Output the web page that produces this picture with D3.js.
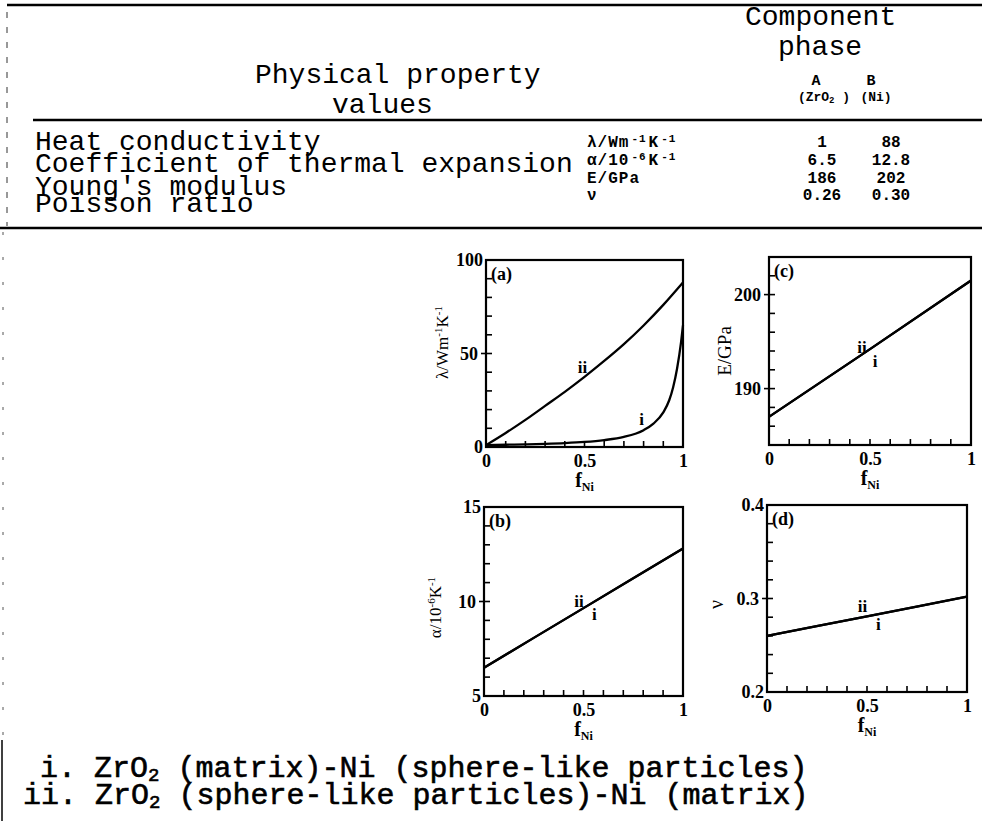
<!DOCTYPE html>
<html>
<head>
<meta charset="utf-8">
<script src="https://cdn.jsdelivr.net/npm/d3@7"></script>
<style>
  body { margin: 0; background: #fff; }
  svg { display: block; }
</style>
</head>
<body>
<svg width="982" height="821"></svg>
<script>
// ---- table data ----
const properties = ['Heat conductivity', 'Coefficient of thermal expansion', "Young's modulus", 'Poisson ratio'];
// unit pieces: [text, isSuperscript]
const units = [
  [['λ/Wm', 0], ['-1', 1], ['K', 0], ['-1', 1]],
  [['α/10', 0], ['-6', 1], ['K', 0], ['-1', 1]],
  [['E/GPa', 0]],
  [['ν', 0]]
];
const valuesA = ['1', '6.5', '186', '0.26'];
const valuesB = ['88', '12.8', '202', '0.30'];

// ---- curve data ----
const fNiLambdaI = [0, 0.1, 0.2, 0.3, 0.4, 0.5, 0.6, 0.7, 0.8, 0.85, 0.9, 0.93, 0.95, 0.97, 0.99, 1];
const lambdaI = [1, 1.2, 1.4, 1.7, 2.1, 2.7, 3.7, 5.4, 9, 12.5, 18.5, 25, 32, 42, 56, 65];
const fNiLambdaII = [0, 0.1, 0.2, 0.3, 0.4, 0.5, 0.6, 0.7, 0.8, 0.9, 1];
const lambdaII = [1, 7.5, 14.5, 22, 29.5, 37.5, 46, 55, 65, 76, 88];

const fNiLinear = [0, 0.5, 1];
const alphaI = [6.5, 9.65, 12.8];
const alphaII = [6.5, 9.65, 12.8];
const youngI = [187, 194.2, 201.5];
const youngII = [187, 194.2, 201.5];
const poissonI = [0.26, 0.281, 0.302];
const poissonII = [0.26, 0.281, 0.302];

// ---- axis ticks ----
const xTicks = [0, 0.5, 1];
const xTickLabels = ['0', '0.5', '1'];
const yTicksA = [0, 50, 100];
const yTicksB = [5, 10, 15];
const yTicksC = [190, 200];
const yTicksD = [0.2, 0.3, 0.4];

const mono = "'Liberation Mono', 'DejaVu Sans Mono', monospace";
const serif = "'Liberation Serif', 'DejaVu Serif', serif";

const svg = d3.select('svg');

// ================= table =================
const rule = (x1, x2, y, w) => svg.append('line')
  .attr('x1', x1).attr('x2', x2).attr('y1', y).attr('y2', y)
  .attr('stroke', '#000').attr('stroke-width', w);

rule(7, 982, 5, 2.6);
rule(33, 982, 120, 2.4);
rule(0, 982, 228, 2.4);

// left border of the page scan
svg.append('line').attr('x1', 7).attr('x2', 7).attr('y1', 12).attr('y2', 226)
  .attr('stroke', '#333').attr('stroke-width', 1).attr('stroke-dasharray', '6,9');
svg.append('line').attr('x1', 3).attr('x2', 3).attr('y1', 232).attr('y2', 740)
  .attr('stroke', '#555').attr('stroke-width', 1).attr('stroke-dasharray', '3,22');
svg.append('line').attr('x1', 2).attr('x2', 2).attr('y1', 740).attr('y2', 821)
  .attr('stroke', '#000').attr('stroke-width', 1.5);

const head = svg.append('g').attr('font-family', mono).attr('fill', '#000');
head.append('text').attr('x', 255).attr('y', 83).attr('font-size', 28).text('Physical property');
head.append('text').attr('x', 332).attr('y', 113).attr('font-size', 28).text('values');
head.append('text').attr('x', 745).attr('y', 25).attr('font-size', 28).text('Component');
head.append('text').attr('x', 778).attr('y', 55).attr('font-size', 28).text('phase');
head.append('text').attr('x', 816).attr('y', 85).attr('font-size', 15).attr('font-weight', 'bold')
  .attr('text-anchor', 'middle').text('A');
head.append('text').attr('x', 871).attr('y', 85).attr('font-size', 15).attr('font-weight', 'bold')
  .attr('text-anchor', 'middle').text('B');
const zr = head.append('text').attr('x', 824).attr('y', 101).attr('font-size', 13)
  .attr('font-weight', 'bold').attr('text-anchor', 'middle');
zr.append('tspan').text('(ZrO');
zr.append('tspan').attr('font-size', 9).attr('dy', 2).text('2');
zr.append('tspan').attr('dy', -2).text(' )');
head.append('text').attr('x', 876).attr('y', 101).attr('font-size', 13).attr('font-weight', 'bold')
  .attr('text-anchor', 'middle').text('(Ni)');

const rowY = [150, 172, 195, 212];
const unitY = [147, 165, 183, 200];

svg.append('g').selectAll('text').data(properties).join('text')
  .attr('x', 35).attr('y', (d, i) => rowY[i])
  .attr('font-family', mono).attr('font-size', 28)
  .text(d => d);

const unitText = svg.append('g').selectAll('text').data(units).join('text')
  .attr('x', 587).attr('y', (d, i) => unitY[i])
  .attr('font-family', mono).attr('font-size', 16).attr('font-weight', 'bold')
  .attr('letter-spacing', 1);
unitText.each(function (parts) {
  const t = d3.select(this);
  parts.forEach(([s, sup], k) => {
    const prevSup = k > 0 && parts[k - 1][1];
    t.append('tspan')
      .attr('font-size', sup ? 11 : 16)
      .attr('dy', sup ? -5 : (prevSup ? 5 : 0))
      .attr('dx', sup ? 2 : (prevSup ? 2 : 0))
      .text(s);
  });
});

svg.append('g').selectAll('text').data(valuesA).join('text')
  .attr('x', 822).attr('y', (d, i) => unitY[i]).attr('text-anchor', 'middle')
  .attr('font-family', mono).attr('font-size', 16).attr('font-weight', 'bold')
  .text(d => d);
svg.append('g').selectAll('text').data(valuesB).join('text')
  .attr('x', 891).attr('y', (d, i) => unitY[i]).attr('text-anchor', 'middle')
  .attr('font-family', mono).attr('font-size', 16).attr('font-weight', 'bold')
  .text(d => d);

// ================= plots =================
const panels = [
  { tag: '(a)', x0: 486, x1: 683, y0: 260, y1: 447, dom: [0, 100], step: 10, ticks: yTicksA,
    series: [[fNiLambdaII, lambdaII], [fNiLambdaI, lambdaI]],
    labels: [['ii', 0.49, 39.6], ['i', 0.79, 11.8]],
    title: 'lambda', titleX: -38, titleDy: -11, fmt: d => d },
  { tag: '(b)', x0: 484, x1: 683, y0: 507, y1: 696, dom: [5, 15], step: 1, ticks: yTicksB,
    series: [[fNiLinear, alphaII], [fNiLinear, alphaI]],
    labels: [['ii', 0.477, 9.71], ['i', 0.555, 9.02]],
    title: 'alpha', titleX: -43, titleDy: 6, fmt: d => d },
  { tag: '(c)', x0: 769, x1: 971, y0: 257, y1: 445, dom: [184, 204], step: 2, ticks: yTicksC,
    series: [[fNiLinear, youngII], [fNiLinear, youngI]],
    labels: [['ii', 0.46, 193.8], ['i', 0.525, 192.3]],
    title: 'E', titleX: -38, titleDy: 0, fmt: d => d },
  { tag: '(d)', x0: 767, x1: 967, y0: 505, y1: 692, dom: [0.2, 0.4], step: 0.02, ticks: yTicksD,
    series: [[fNiLinear, poissonII], [fNiLinear, poissonI]],
    labels: [['ii', 0.477, 0.2856], ['i', 0.557, 0.2663]],
    title: 'nu', titleX: -44, titleDy: 6, fmt: d => d.toFixed(1) }
];

panels.forEach(p => {
  const x = d3.scaleLinear().domain([0, 1]).range([p.x0, p.x1]);
  const y = d3.scaleLinear().domain(p.dom).range([p.y1, p.y0]);
  const g = svg.append('g');

  // minor x ticks, pointing inward
  g.selectAll('.xm').data(d3.range(1, 10).map(i => i / 10)).join('line')
    .attr('x1', d => x(d)).attr('x2', d => x(d))
    .attr('y1', p.y1).attr('y2', p.y1 - 6)
    .attr('stroke', '#000').attr('stroke-width', 1.6);

  // y ticks
  const n = Math.round((p.dom[1] - p.dom[0]) / p.step);
  const yMinor = d3.range(1, n).map(i => p.dom[0] + i * p.step);
  const isMajor = v => p.ticks.some(t => Math.abs(t - v) < 1e-9);
  g.selectAll('.ym').data(yMinor).join('line')
    .attr('x1', d => isMajor(d) ? p.x0 - 5 : p.x0).attr('x2', p.x0 + 6)
    .attr('y1', d => y(d)).attr('y2', d => y(d))
    .attr('stroke', '#000').attr('stroke-width', 1.6);

  // frame
  g.append('rect')
    .attr('x', p.x0).attr('y', p.y0)
    .attr('width', p.x1 - p.x0).attr('height', p.y1 - p.y0)
    .attr('fill', 'none').attr('stroke', '#000').attr('stroke-width', 2.2);

  // tick labels
  const ya = g.append('g').attr('transform', `translate(${p.x0},0)`)
    .call(d3.axisLeft(y).tickValues(p.ticks).tickFormat(p.fmt).tickSize(0).tickPadding(3));
  ya.select('.domain').remove();
  ya.selectAll('.tick text')
    .attr('x', d => (d === p.dom[0] || d === p.dom[1]) ? -3 : -8)
    .attr('font-family', serif).attr('font-size', 18).attr('font-weight', 'bold');

  const xa = g.append('g').attr('transform', `translate(0,${p.y1})`)
    .call(d3.axisBottom(x).tickValues(xTicks).tickFormat((d, i) => xTickLabels[i]).tickSize(0).tickPadding(7));
  xa.select('.domain').remove();
  xa.selectAll('.tick text')
    .attr('font-family', serif).attr('font-size', 18).attr('font-weight', 'bold');

  // curves
  const line = d3.line().x(d => x(d[0])).y(d => y(d[1])).curve(d3.curveMonotoneX);
  p.series.forEach(([fs, vs]) => {
    g.append('path').datum(d3.zip(fs, vs))
      .attr('d', line)
      .attr('fill', 'none').attr('stroke', '#000').attr('stroke-width', 2.3);
  });

  // curve labels
  g.selectAll('.cl').data(p.labels).join('text')
    .attr('x', d => x(d[1])).attr('y', d => y(d[2]))
    .attr('text-anchor', 'middle')
    .attr('font-family', serif).attr('font-size', 17).attr('font-weight', 'bold')
    .text(d => d[0]);

  // panel tag
  g.append('text').attr('x', p.x0 + 5).attr('y', p.y0 + 20)
    .attr('font-family', serif).attr('font-size', 18).attr('font-weight', 'bold')
    .text(p.tag);

  // x title f_Ni
  const xt = g.append('text').attr('x', (p.x0 + p.x1) / 2).attr('y', p.y1 + 40)
    .attr('text-anchor', 'middle').attr('font-family', serif).attr('font-weight', 'bold');
  xt.append('tspan').attr('font-size', 20).text('f');
  xt.append('tspan').attr('font-size', 12).attr('dy', 4).text('Ni');

  // y title
  const cy = (p.y0 + p.y1) / 2 + p.titleDy;
  const yt = g.append('text')
    .attr('transform', `translate(${p.x0 + p.titleX},${cy}) rotate(-90)`)
    .attr('text-anchor', 'middle').attr('font-family', serif).attr('font-size', 17);
  if (p.title === 'lambda') {
    yt.append('tspan').text('λ/Wm');
    yt.append('tspan').attr('font-size', 11).attr('dy', -6).text('-1');
    yt.append('tspan').attr('dy', 6).text('K');
    yt.append('tspan').attr('font-size', 11).attr('dy', -6).text('-1');
  } else if (p.title === 'alpha') {
    yt.append('tspan').text('α/10');
    yt.append('tspan').attr('font-size', 11).attr('dy', -6).text('-6');
    yt.append('tspan').attr('dy', 6).text('K');
    yt.append('tspan').attr('font-size', 11).attr('dy', -6).text('-1');
  } else if (p.title === 'E') {
    yt.attr('font-size', 19).text('E/GPa');
  } else {
    yt.attr('font-size', 20).text('ν');
  }
});

// ================= footnotes =================
const notes = [
  ['i. ZrO', '2', ' (matrix)-Ni (sphere-like particles)'],
  ['ii. ZrO', '2', ' (sphere-like particles)-Ni (matrix)']
];
const noteX = [40, 23];
const noteY = [777, 804];
svg.append('g').selectAll('text').data(notes).join('text')
  .attr('x', (d, i) => noteX[i]).attr('y', (d, i) => noteY[i])
  .attr('font-family', mono).attr('font-size', 30)
  .attr('stroke', '#000').attr('stroke-width', 0.6)
  .each(function (d) {
    const t = d3.select(this);
    t.append('tspan').text(d[0]);
    t.append('tspan').attr('font-size', 19).attr('dy', 4).text(d[1]);
    t.append('tspan').attr('dy', -4).text(d[2]);
  });
</script>
</body>
</html>
